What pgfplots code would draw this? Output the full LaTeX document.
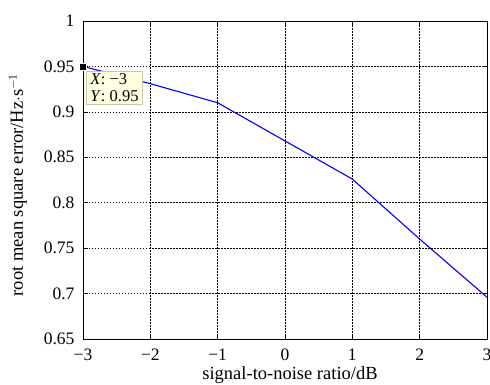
\documentclass[border=0pt]{standalone}
\usepackage{fontspec}
\setmainfont{Liberation Serif}
\usepackage{pgfplots}
\pgfplotsset{compat=1.18}
\definecolor{tipfill}{RGB}{255,255,225}
\definecolor{tipedge}{RGB}{200,200,170}
\begin{document}
\begin{tikzpicture}
\begin{axis}[
  at={(0,0)}, anchor=south west,
  scale only axis, width=404pt, height=318pt,
  xmin=-3, xmax=3, ymin=0.65, ymax=1,
  xtick={-3,-2,-1,0,1,2,3},
  xticklabels={\textrm{−3},\textrm{−2},\textrm{−1},\textrm{0},\textrm{1},\textrm{2},\textrm{3}},
  ytick={0.65,0.7,0.75,0.8,0.85,0.9,0.95,1},
  yticklabels={\textrm{0.65},\textrm{0.7},\textrm{0.75},\textrm{0.8},\textrm{0.85},\textrm{0.9},\textrm{0.95},\textrm{1}},
  tick align=inside, tick pos=both,
  major tick length=5pt,
  every tick/.style={black, line width=0.6pt},
  axis line style={black, line width=0.9pt},
  grid=major,
  major grid style={black, line width=0.7pt, dash pattern=on 1.5pt off 1.5pt},
  tick label style={font=\fontsize{17.5}{19}\selectfont},
  xticklabel style={yshift=-6pt},
  yticklabel style={xshift=-5pt},
  xlabel={signal-to-noise ratio/dB},
  ylabel={root mean square error/Hz$\cdot$s$^{-1}$},
  label style={font=\fontsize{18.5}{20}\selectfont},
  xlabel style={at={(axis description cs:0.5,0)}, anchor=base, yshift=-41pt, xshift=5pt},
  ylabel style={at={(axis description cs:0,0.5)}, anchor=base, yshift=60pt, xshift=-5pt},
  clip=false,
]
\addplot[color={rgb,255:red,0;green,0;blue,255}, line width=1.1pt] coordinates {
  (-3,0.95) (-2,0.931) (-1,0.910) (0,0.868) (1,0.826) (2,0.760) (3,0.696)
};
\addplot[only marks, mark=square*, mark size=3.6pt, mark options={fill=black, draw=tipfill, line width=0.6pt}] coordinates {(-3,0.95)};
\node[anchor=north west, fill=tipfill, draw=tipedge, line width=0.7pt, inner xsep=3.5pt, inner ysep=2.5pt, align=left,
  font=\fontsize{16.5}{17}\selectfont, xshift=3.5pt, yshift=-4.5pt] at (axis cs:-3,0.95)
  {\textit{X}: −3\\\textit{Y}: 0.95};
\end{axis}
\pgfresetboundingbox
\path[use as bounding box] (-83pt,-46pt) rectangle (407pt,339pt);
\end{tikzpicture}
\end{document}
